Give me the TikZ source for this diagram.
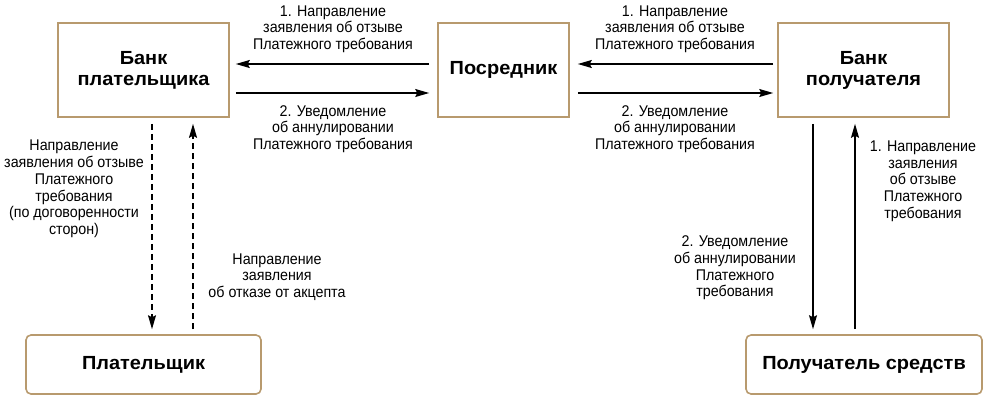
\documentclass[tikz,border=0pt]{standalone}
\usepackage{fontspec}
\setmainfont{Liberation Sans}
\newfontfamily\narrowfont[FakeStretch=0.92]{Liberation Sans}
\newfontfamily\widefont[FakeStretch=1.05]{Liberation Sans}
\usetikzlibrary{arrows.meta}
\definecolor{boxtan}{RGB}{184,154,110}

\begin{document}
\begin{tikzpicture}[x=1pt, y=-1pt,
  box/.style={draw=boxtan, line width=1.6pt, minimum width=171pt, minimum height=94pt,
    align=center, font=\widefont\fontsize{19}{21}\selectfont\bfseries},
  party/.style={box, rounded corners=5pt, minimum width=235pt, minimum height=59pt},
  lbl/.style={align=center, font=\narrowfont\fontsize{15.5}{16.7}\selectfont},
  arr/.style={-{Stealth[length=14pt,width=8pt,inset=2pt]}, line width=1.3pt},
  dasharr/.style={arr, dash pattern=on 6pt off 4pt}]
         \useasboundingbox (0,0) rectangle (987,400);
         \node [box] (PB) at (143.5, 70) {Банк\\плательщика};
         \node [box, minimum width=131pt] (MID) at (503.5, 70) {Посредник};
         \node [box] (RB) at (863.5, 70) {Банк\\получателя};
         \node [party] (P) at (143.5, 364.5) {Плательщик};
         \node [party, minimum width=236pt] (R) at (864, 364.5) {Получатель средств};
         \node [lbl] (L1) at (333, 29) {1. Направление\\заявления об отзыве\\Платежного требования};
         \node [lbl] (L2) at (333, 129) {2. Уведомление\\об аннулировании\\Платежного требования};
         \node [lbl] (R1) at (675, 29) {1. Направление\\заявления об отзыве\\Платежного требования};
         \node [lbl] (R2) at (675, 129) {2. Уведомление\\об аннулировании\\Платежного требования};
         \node [lbl] (PL) at (74, 189) {Направление\\заявления об отзыве\\Платежного\\требования\\(по договоренности\\сторон)};
         \node [lbl] (PR) at (277, 277) {Направление\\заявления\\об отказе от акцепта};
         \node [lbl] (RL) at (735, 268) {2. Уведомление\\об аннулировании\\Платежного\\требования};
         \node [lbl] (RR) at (923, 181) {1. Направление\\заявления\\об отзыве\\Платежного\\требования};
         \draw [arr, shorten <=8pt, shorten >=6pt] ([yshift=6pt]MID.west) -- ([yshift=6pt]PB.east);
         \draw [arr, shorten <=6pt, shorten >=8pt] ([yshift=-23pt]PB.east) -- ([yshift=-23pt]MID.west);
         \draw [arr, shorten <=4pt, shorten >=8pt] ([yshift=6pt]RB.west) -- ([yshift=6pt]MID.east);
         \draw [arr, shorten <=8pt, shorten >=4pt] ([yshift=-23pt]MID.east) -- ([yshift=-23pt]RB.west);
         \draw [dasharr, shorten <=6pt, shorten >=5pt] ([xshift=8.5pt]PB.south) -- ([xshift=8.5pt]P.north);
         \draw [dasharr, shorten <=5pt, shorten >=6pt] ([xshift=49.5pt]P.north) -- ([xshift=49.5pt]PB.south);
         \draw [arr, shorten <=6pt, shorten >=5pt] ([xshift=-50.5pt]RB.south) -- ([xshift=-51pt]R.north);
         \draw [arr, shorten <=5pt, shorten >=6pt] ([xshift=-9pt]R.north) -- ([xshift=-8.5pt]RB.south);
\end{tikzpicture}
\end{document}
